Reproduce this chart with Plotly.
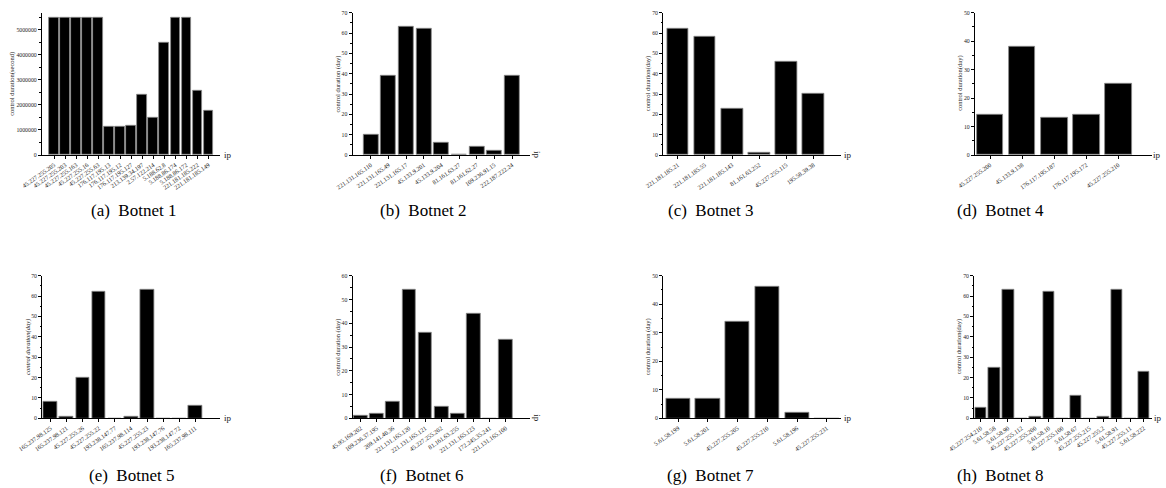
import plotly.graph_objects as go

W, H = 1166, 488

# ---- data ----
labels_a = ["45.227.255.205", "45.227.255.203", "45.227.255.163", "45.227.255.16", "45.227.255.63",
            "176.117.195.13", "176.117.195.12", "176.117.195.127", "213.139.34.197", "2.57.122.214",
            "5.188.62.8", "5.188.86.174", "5.188.86.172", "221.181.185.222", "221.181.185.149"]
values_a = [5500000, 5500000, 5500000, 5500000, 5500000, 1130000, 1140000, 1170000, 2430000, 1510000,
            4480000, 5500000, 5500000, 2570000, 1790000]

labels_b = ["221.131.165.110", "221.131.165.49", "221.131.165.17", "45.133.9.201", "45.133.9.204",
            "81.161.63.27", "81.161.62.27", "109.236.91.15", "222.187.222.24"]
values_b = [10, 39, 63, 62, 6, 0, 4, 2, 39]

labels_c = ["221.181.185.21", "221.181.185.55", "221.181.185.143", "81.161.63.252", "45.227.255.115",
            "195.58.39.38"]
values_c = [62, 58, 23, 1, 46, 30]

labels_d = ["45.227.255.200", "45.133.9.138", "176.117.195.187", "176.117.195.172", "45.227.255.210"]
values_d = [14, 38, 13, 14, 25]

labels_e = ["165.237.98.125", "165.237.98.121", "45.227.255.26", "45.227.255.22", "193.238.147.77",
            "165.237.98.114", "45.227.255.23", "193.238.147.76", "193.238.147.72", "165.237.98.111"]
values_e = [8, 1, 20, 62, 0, 1, 63, 0, 0, 6]

labels_f = ["45.95.169.202", "109.236.37.195", "209.141.40.36", "221.131.165.120", "221.131.165.121",
            "45.227.255.202", "81.161.63.255", "221.131.165.123", "172.245.35.241", "221.131.165.100"]
values_f = [1, 2, 7, 54, 36, 5, 2, 44, 0, 33]

labels_g = ["5.61.58.199", "5.61.58.201", "45.227.255.205", "45.227.255.210", "5.61.58.196",
            "45.227.255.231"]
values_g = [7, 7, 34, 46, 2, 0]

labels_h = ["45.227.254.210", "5.61.58.58", "5.61.58.90", "45.227.255.112", "45.227.255.200",
            "5.61.58.10", "45.227.255.100", "5.61.58.67", "45.227.255.215", "45.227.255.2",
            "5.61.58.91", "45.227.255.11", "5.61.58.222"]
values_h = [5, 25, 63, 0, 1, 62, 0, 11, 0, 1, 63, 0, 23]

titles = ["(a)  Botnet 1", "(b)  Botnet 2", "(c)  Botnet 3", "(d)  Botnet 4",
          "(e)  Botnet 5", "(f)  Botnet 6", "(g)  Botnet 7", "(h)  Botnet 8"]
ytitles = ["control duration(second)", "control duration (day)", "control duration(day)",
           "control duration(day)", "<i>control duration(day)</i>", "control duration (day)",
           "control duration (day)", "control duration(day)"]

# ---- panel layout (pixels) ----
SERIF = "Liberation Serif"
panels = [
    # labels, values, x0, x1, ytop, ybot, xrange, ymax, dtick, minor, width, ip_x, ip_rot
    (labels_a, values_a, 42, 220, 12.7, 155, [-1.1, 15.05], 5690000, 1000000, 500000, 0.88, 228, False),
    (labels_b, values_b, 352.7, 530, 12.7, 155, [-1.03, 9.02], 70, 10, 5, 0.85, 537, True),
    (labels_c, values_c, 663.3, 840.7, 12.7, 155, [-0.53, 6.0], 70, 10, 5, 0.80, 848, False),
    (labels_d, values_d, 975, 1151.7, 12.7, 155, [-0.47, 5.04], 50, 10, 5, 0.83, 1157, False),
    (labels_e, values_e, 42.3, 220, 275.7, 418.3, [-0.51, 10.53], 70, 10, 5, 0.85, 228, False),
    (labels_f, values_f, 352.7, 530, 275.7, 418.3, [-0.5, 10.5], 60, 10, 5, 0.85, 537, True),
    (labels_g, values_g, 663.3, 840.7, 275.7, 418.3, [-0.5, 5.47], 50, 10, 5, 0.82, 848, False),
    (labels_h, values_h, 974.3, 1151.7, 275.7, 418.3, [-0.48, 12.58], 70, 10, 5, 0.86, 1158, False),
]
title_pos = [(133, 211), (423, 211), (710, 211), (1000, 211),
             (131, 475), (422, 475), (710, 475), (1000, 475)]


def px(x):
    return x / W


def py(y):
    return 1 - y / H


fig = go.Figure()
annotations = []
layout = {}

for i, (labs, vals, x0, x1, yt, yb, xr, ymax, dt, mn, bw, ipx, iprot) in enumerate(panels):
    n = i + 1
    xa = "xaxis" if n == 1 else f"xaxis{n}"
    ya = "yaxis" if n == 1 else f"yaxis{n}"
    xref = "x" if n == 1 else f"x{n}"
    yref = "y" if n == 1 else f"y{n}"
    idx = list(range(len(labs)))
    fig.add_trace(go.Bar(
        x=idx, y=vals, width=bw, xaxis=xref, yaxis=yref,
        marker=dict(color="black", line=dict(color="#8a8a8a", width=0.8)),
        showlegend=False, hoverinfo="skip"))
    layout[xa] = dict(
        domain=[px(x0), px(x1)], anchor=yref, range=xr, automargin=False,
        tickmode="array", tickvals=idx, ticktext=labs, tickangle=-35,
        ticks="outside", ticklen=3, tickwidth=1, tickcolor="black",
        showline=True, linecolor="black", linewidth=1.3,
        showgrid=False, zeroline=False, fixedrange=True,
        tickfont=dict(family=SERIF, size=6.2, color="#222"))
    layout[ya] = dict(
        domain=[py(yb), py(yt)], anchor=xref, range=[0, ymax], automargin=False,
        tickmode="linear", tick0=0, dtick=dt, tickformat="d",
        ticks="outside", ticklen=3, tickwidth=1, tickcolor="black",
        minor=dict(ticks="outside", ticklen=1.5, dtick=mn, tickcolor="black", tickwidth=0.8),
        showline=True, linecolor="black", linewidth=1.3,
        showgrid=False, zeroline=False, fixedrange=True,
        tickfont=dict(family=SERIF, size=5.8, color="#222"))
    # y-axis title
    ytx = x0 - (30 if n in (1, 5) else 15)
    if n == 5:
        ytx = 28
    annotations.append(dict(
        text=ytitles[i], x=px(ytx), y=py((yt + yb) / 2), xref="paper", yref="paper",
        textangle=-90, showarrow=False, xanchor="center", yanchor="middle",
        font=dict(family=SERIF, size=6.5, color="#222")))
    # axis end label
    annotations.append(dict(
        text="ip", x=px(ipx), y=py(yb), xref="paper", yref="paper",
        textangle=90 if iprot else 0, showarrow=False, xanchor="center", yanchor="middle",
        font=dict(family=SERIF, size=9, color="#222")))
    # panel caption
    tx, ty = title_pos[i]
    annotations.append(dict(
        text=titles[i], x=px(tx), y=py(ty), xref="paper", yref="paper",
        showarrow=False, xanchor="center", yanchor="middle",
        font=dict(family=SERIF, size=17, color="black")))

fig.update_layout(
    width=W, height=H, margin=dict(l=0, r=0, t=0, b=0, autoexpand=False),
    paper_bgcolor="white", plot_bgcolor="white",
    annotations=annotations, bargap=0, **layout)

fig.write_html("out.html")
